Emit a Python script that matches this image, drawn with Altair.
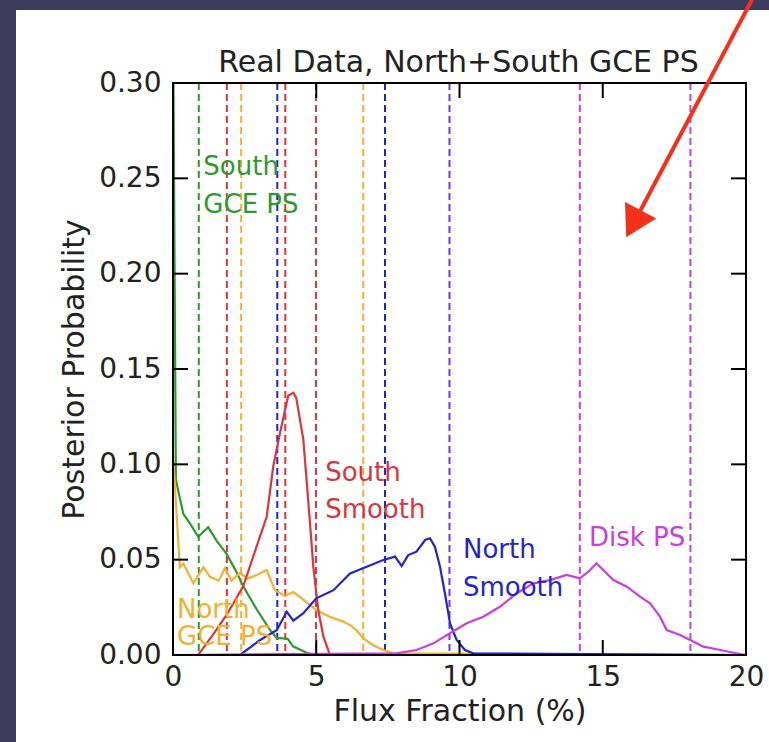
import altair as alt
import pandas as pd

# ---------------- data ----------------
SERIES = ["South GCE PS", "North GCE PS", "South Smooth", "North Smooth", "Disk PS"]
COLORS = ["#2e9a2e", "#f0b134", "#d9363e", "#2424cc", "#c63fe0"]

green_x = [0, 0.1, 0.2, 0.36, 0.59, 0.88, 1.23, 1.52, 1.87, 2.2, 2.45, 2.92, 3.39, 3.62, 3.85, 4.0, 4.2, 4.67, 5.0, 20]
green_y = [0.34, 0.092, 0.085, 0.074, 0.069, 0.062, 0.067, 0.060, 0.053, 0.044, 0.036, 0.024, 0.013, 0.009, 0.0087, 0.0085, 0.0044, 0.0012, 0.0, 0.0]

yellow_x = [0, 0.1, 0.24, 0.36, 0.71, 1.06, 1.29, 1.6, 1.81, 2.04, 2.34, 2.6, 2.92, 3.27, 3.56, 3.91, 4.2, 4.55, 5.0, 5.48, 5.94, 6.18, 6.41, 6.64, 7.0, 7.34, 7.69, 20]
yellow_y = [0.105, 0.08, 0.046, 0.048, 0.0376, 0.046, 0.041, 0.039, 0.0455, 0.039, 0.043, 0.040, 0.042, 0.0446, 0.034, 0.031, 0.033, 0.029, 0.0236, 0.020, 0.0175, 0.0157, 0.013, 0.0087, 0.005, 0.0026, 0.0009, 0.0]

red_x = [0, 0.88, 1.41, 1.87, 2.45, 2.92, 3.27, 3.5, 3.73, 4.02, 4.2, 4.3, 4.55, 4.72, 4.9, 5.07, 5.25, 5.48, 20]
red_y = [0.0, 0.0, 0.011, 0.021, 0.036, 0.057, 0.0725, 0.099, 0.116, 0.136, 0.1376, 0.135, 0.113, 0.081, 0.046, 0.0236, 0.0096, 0.0, 0.0]

blue_x = [0, 2.34, 3.04, 3.62, 3.97, 4.2, 4.55, 5.0, 5.6, 6.18, 6.76, 7.34, 7.75, 7.98, 8.21, 8.5, 8.8, 8.97, 9.14, 9.32, 9.49, 9.67, 9.9, 10.19, 10.48, 20]
blue_y = [0.0, 0.0, 0.0079, 0.013, 0.0227, 0.018, 0.0219, 0.0297, 0.034, 0.0428, 0.0463, 0.0498, 0.0516, 0.0467, 0.0524, 0.0542, 0.0603, 0.0612, 0.0568, 0.0463, 0.0324, 0.0166, 0.0079, 0.0026, 0.0009, 0.0]

magenta_x = [0, 7.8, 8.5, 9.09, 9.67, 10.25, 10.83, 11.41, 12.0, 12.58, 13.16, 13.74, 14.2, 14.5, 14.78, 15.02, 15.37, 15.84, 16.3, 16.65, 17.0, 17.23, 17.7, 18.05, 18.51, 18.98, 19.56, 20]
magenta_y = [0.0, 0.0009, 0.0026, 0.0061, 0.0114, 0.0166, 0.0201, 0.0253, 0.0324, 0.0376, 0.0393, 0.042, 0.0402, 0.0437, 0.0481, 0.0446, 0.0393, 0.0358, 0.0306, 0.0271, 0.0201, 0.0131, 0.0105, 0.0079, 0.0044, 0.003, 0.0012, 0.0]

VLINE_X = [0.9, 1.88, 2.38, 3.64, 3.92, 4.99, 6.64, 7.4, 9.65, 14.2, 18.06]
VLINE_COLOR = ["#2e9a2e", "#d9363e", "#f0b134", "#2424cc", "#d9363e", "#d9363e",
               "#f0b134", "#2424cc", "#6a3be0", "#c63fe0", "#c63fe0"]

LABEL_TEXT = ["South", "GCE PS", "South", "Smooth", "North", "Smooth", "Disk PS", "North", "GCE PS"]
LABEL_X = [1.06, 1.06, 5.31, 5.31, 10.12, 10.12, 14.52, 0.14, 0.14]
LABEL_Y = [0.256, 0.236, 0.0954, 0.0760, 0.0551, 0.0351, 0.0614, 0.0236, 0.0094]
LABEL_COLOR = ["#2e9a2e", "#2e9a2e", "#d9363e", "#d9363e", "#2424cc", "#2424cc",
               "#c63fe0", "#f0b134", "#f0b134"]

X_TICKS = [0, 5, 10, 15, 20]
Y_TICKS = [0.0, 0.05, 0.10, 0.15, 0.20, 0.25, 0.30]

ARROW_X = [20.39, 16.07]
ARROW_Y = [0.3488, 0.2262]

TITLE = "Real Data, North+South GCE PS"
X_TITLE = "Flux Fraction (%)"
Y_TITLE = "Posterior Probability"

# ---------------- layout ----------------
W, H = 573, 572
FONT = "DejaVu Sans"
BG = "#3d3b5e"

xs = alt.Scale(domain=[0, 20], nice=False, zero=False)
ys = alt.Scale(domain=[0, 0.30], nice=False, zero=False)

rows = []
for name, col, xv, yv in zip(SERIES, COLORS,
                             [green_x, yellow_x, red_x, blue_x, magenta_x],
                             [green_y, yellow_y, red_y, blue_y, magenta_y]):
    for i, (a, b) in enumerate(zip(xv, yv)):
        rows.append({"series": name, "col": col, "i": i, "x": a, "y": b})
curves_df = pd.DataFrame(rows)

vl_df = pd.DataFrame({"x": VLINE_X, "col": VLINE_COLOR})
lab_df = pd.DataFrame({"t": LABEL_TEXT, "x": LABEL_X, "y": LABEL_Y, "col": LABEL_COLOR})
xt_df = pd.DataFrame({"x": X_TICKS})
yt_df = pd.DataFrame({"y": Y_TICKS})
arrow_df = pd.DataFrame({"x": [ARROW_X[0]], "y": [ARROW_Y[0]], "x2": [ARROW_X[1]], "y2": [ARROW_Y[1]]})
head_df = pd.DataFrame({"x": [ARROW_X[1]], "y": [ARROW_Y[1]]})
one = pd.DataFrame({"a": [0]})
title_df = pd.DataFrame({"t": [TITLE]})

x_axis = alt.Axis(values=X_TICKS, format="d", title=X_TITLE, grid=False, domain=False, ticks=False,
                  labelFont=FONT, labelFontSize=28, labelColor="#222222", labelPadding=8,
                  titleFont=FONT, titleFontSize=30, titleFontWeight="normal", titleColor="#222222",
                  titlePadding=5, labelFlush=False)
y_axis = alt.Axis(values=Y_TICKS, format=".2f", title=Y_TITLE, grid=False, domain=False, ticks=False,
                  labelFont=FONT, labelFontSize=28, labelColor="#222222", labelPadding=12,
                  titleFont=FONT, titleFontSize=30, titleFontWeight="normal", titleColor="#222222",
                  titlePadding=9, labelFlush=False)

# dark slide strips (top and left)
strip_top = alt.Chart(one).mark_rect(color=BG).encode(
    x=alt.value(-173), x2=alt.value(W + 30), y=alt.value(-90), y2=alt.value(-73))
strip_left = alt.Chart(one).mark_rect(color=BG).encode(
    x=alt.value(-180), x2=alt.value(-157), y=alt.value(-90), y2=alt.value(H + 100))

vlines = alt.Chart(vl_df).mark_rule(strokeWidth=2, strokeDash=[7, 4]).encode(
    x=alt.X("x:Q", scale=xs, axis=x_axis),
    color=alt.Color("col:N", scale=None))

curves = alt.Chart(curves_df).mark_line(strokeWidth=2.2, clip=True).encode(
    x=alt.X("x:Q", scale=xs, axis=x_axis),
    y=alt.Y("y:Q", scale=ys, axis=y_axis),
    detail="series:N",
    order="i:Q",
    color=alt.Color("col:N", scale=None))

labels = alt.Chart(lab_df).mark_text(font=FONT, fontSize=26, align="left", baseline="middle").encode(
    x=alt.X("x:Q", scale=xs), y=alt.Y("y:Q", scale=ys), text="t:N",
    color=alt.Color("col:N", scale=None))

title_mark = alt.Chart(title_df).mark_text(font=FONT, fontSize=30, align="center", baseline="alphabetic",
                                           color="#222222").encode(
    x=alt.value(W / 2 - 1), y=alt.value(-11), text="t:N")

tk = dict(color="black", strokeWidth=2)
tick_left = alt.Chart(yt_df).mark_rule(**tk).encode(
    x=alt.value(0), x2=alt.value(15), y=alt.Y("y:Q", scale=ys))
tick_right = alt.Chart(yt_df).mark_rule(**tk).encode(
    x=alt.value(W - 15), x2=alt.value(W), y=alt.Y("y:Q", scale=ys))
tick_top = alt.Chart(xt_df).mark_rule(**tk).encode(
    x=alt.X("x:Q", scale=xs), y=alt.value(0), y2=alt.value(15))
tick_bottom = alt.Chart(xt_df).mark_rule(**tk).encode(
    x=alt.X("x:Q", scale=xs), y=alt.value(H - 15), y2=alt.value(H))

frame = alt.Chart(one).mark_rect(filled=False, stroke="black", strokeWidth=2).encode(
    x=alt.value(0), x2=alt.value(W), y=alt.value(0), y2=alt.value(H))

arrow = alt.Chart(arrow_df).mark_rule(color="#f5301a", strokeWidth=4).encode(
    x=alt.X("x:Q", scale=xs), y=alt.Y("y:Q", scale=ys), x2="x2:Q", y2="y2:Q")
head = alt.Chart(head_df).mark_point(shape="triangle-down", filled=True, color="#f5301a",
                                     size=1250, angle=28, opacity=1).encode(
    x=alt.X("x:Q", scale=xs), y=alt.Y("y:Q", scale=ys))

chart = alt.layer(
    strip_top, strip_left, vlines, curves, labels, title_mark,
    tick_left, tick_right, tick_top, tick_bottom, frame, arrow, head
).properties(
    width=W, height=H,
    autosize=alt.AutoSizeParams(type="none"),
    padding={"left": 173, "top": 83, "right": 23, "bottom": 87},
    background="white",
).configure_view(stroke=None)

chart.save("out.html", embed_options={"renderer": "svg", "actions": False})
